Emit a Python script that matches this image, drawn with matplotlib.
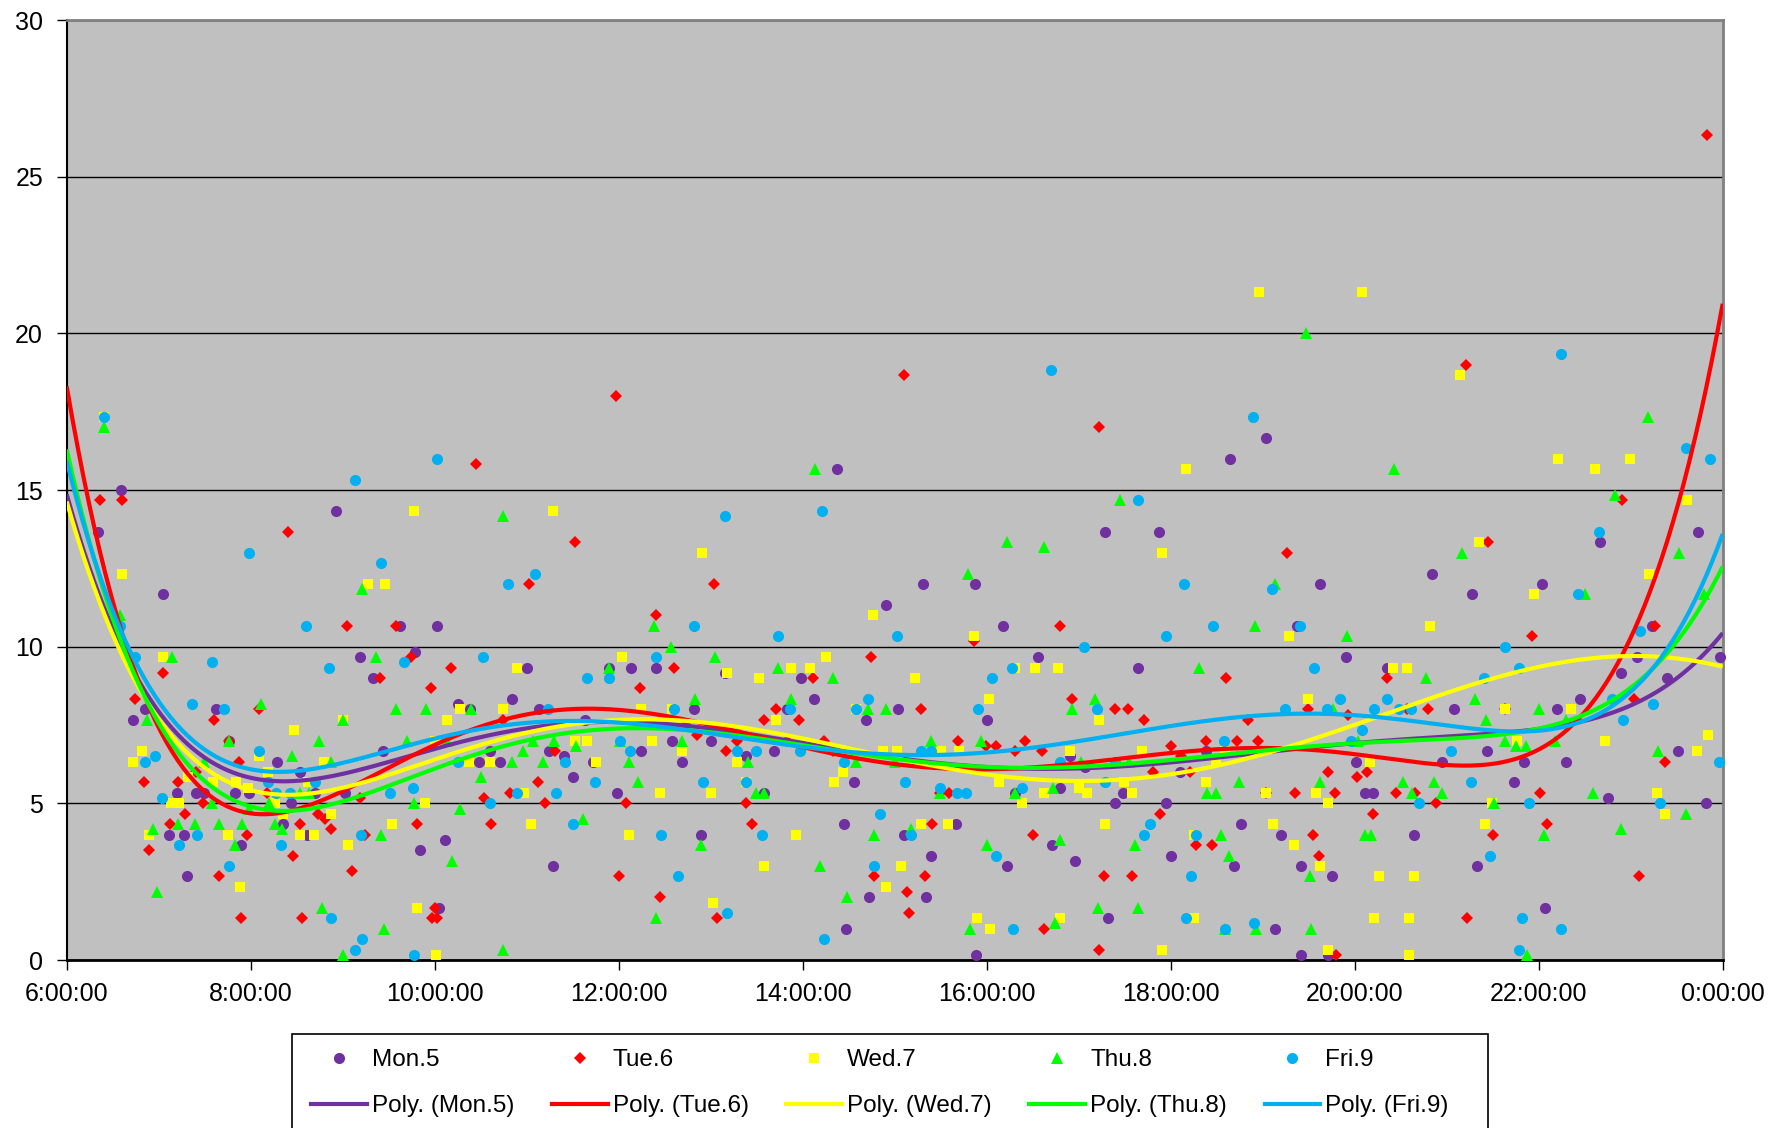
import numpy as np
import matplotlib
matplotlib.use("Agg")
import matplotlib.pyplot as plt
from matplotlib.lines import Line2D
from matplotlib.patches import Rectangle

# ---------------- data (time in hours of day, value) ----------------
mon_t = [6.59, 6.34, 7.05, 8.93, 9.62, 10.02, 9.19, 9.79, 9.33,
         14.37, 14.91, 11.0, 11.89, 12.13, 12.40, 13.15, 13.98,
         19.04, 18.64, 17.29, 17.87, 15.31, 15.87, 19.62, 16.18, 19.37, 16.56, 17.64,
         22.67, 23.73, 20.84, 21.28, 22.04, 23.23, 19.91, 20.35, 22.90, 23.07, 23.39, 23.97,
         6.85, 6.72, 7.62, 7.76, 8.29, 10.25, 10.38, 9.44, 10.48, 7.2, 7.4, 7.49, 7.83, 7.98,
         8.70, 8.54, 8.44, 9.02, 8.35, 7.11, 7.27, 8.61, 7.89, 10.11, 9.84, 7.31, 10.05,
         10.84, 11.13, 12.82, 14.12, 13.83, 15.04, 14.69, 11.63, 11.24, 11.41, 10.6, 10.71,
         11.72, 12.24, 12.58, 12.69, 13.0, 13.38, 13.69, 14.56, 11.5, 11.98, 13.58, 12.89,
         14.45, 11.29, 14.72, 14.47,
         16.0, 16.91, 17.07, 18.1, 18.38, 16.31, 16.8, 17.48, 17.4, 17.95, 15.1, 15.67,
         16.71, 15.4, 16.22, 16.96, 15.34, 18.0, 18.76, 18.69, 19.2, 19.42, 17.32, 15.88,
         19.13, 19.42,
         21.08, 22.2, 22.45, 23.51, 21.44, 20.01, 20.95, 21.84, 22.3, 20.11, 20.2, 21.73,
         22.75, 23.82, 20.64, 21.33, 19.75, 22.07, 19.71]
mon_v = [15.0, 13.67, 11.67, 14.33, 10.67, 10.67, 9.67, 9.83, 9.0,
         15.67, 11.33, 9.33, 9.33, 9.33, 9.33, 9.17, 9.0,
         16.67, 16.0, 13.67, 13.67, 12.0, 12.0, 12.0, 10.67, 10.67, 9.67, 9.33,
         13.33, 13.67, 12.33, 11.67, 12.0, 10.67, 9.67, 9.33, 9.17, 9.67, 9.0, 9.67,
         8.0, 7.67, 8.0, 7.0, 6.33, 8.17, 8.0, 6.67, 6.33, 5.33, 5.33, 5.33, 5.33, 5.33,
         5.33, 6.0, 5.0, 5.33, 4.33, 4.0, 4.0, 4.0, 3.67, 3.83, 3.5, 2.67, 1.67,
         8.33, 8.0, 8.0, 8.33, 8.0, 8.0, 7.67, 7.67, 6.67, 6.5, 6.67, 6.33,
         6.33, 6.67, 7.0, 6.33, 7.0, 6.5, 6.67, 5.67, 5.83, 5.33, 5.33, 4.0,
         4.33, 3.0, 2.0, 1.0,
         7.67, 6.5, 6.17, 6.0, 6.67, 5.33, 5.5, 5.33, 5.0, 5.0, 4.0, 4.33,
         3.67, 3.33, 3.0, 3.17, 2.0, 3.33, 4.33, 3.0, 4.0, 3.0, 1.33, 0.17,
         1.0, 0.17,
         8.0, 8.0, 8.33, 6.67, 6.67, 6.33, 6.33, 6.33, 6.33, 5.33, 5.33, 5.67,
         5.17, 5.0, 4.0, 3.0, 2.67, 1.67, 0.17]

tue_t = [6.36, 6.60, 7.05, 8.40, 9.05, 10.45, 9.58, 9.74, 10.18, 9.40, 9.96,
         11.53, 11.02, 13.04, 12.41, 14.74, 12.6, 14.11, 12.23,
         17.22, 19.26, 16.80, 15.86, 18.60,
         22.91, 21.45, 21.93, 23.26, 20.35,
         11.97, 15.1, 21.21, 23.83,
         6.74, 7.60, 8.09, 7.76, 7.87, 7.4, 6.84, 7.21, 7.48, 7.29, 8.18, 9.19, 8.73, 8.81,
         8.54, 8.87, 7.12, 7.96, 6.89, 8.46, 9.24, 9.81, 9.1, 7.65, 7.89, 8.56, 10.0, 9.97, 10.03,
         10.74, 12.73, 12.85, 13.71, 13.58, 13.96, 11.31, 13.29, 13.17, 13.83, 14.23, 14.33,
         10.54, 10.82, 11.12, 11.2, 12.08, 13.38, 10.61, 13.45, 12.0, 14.78, 12.45, 13.07,
         15.29, 16.93, 17.4, 17.54, 17.71, 19.49, 18.84, 15.69, 15.99, 16.1, 16.42, 16.31,
         16.6, 18.0, 18.11, 18.21, 17.81, 18.38, 18.72, 18.95, 15.49, 15.59, 19.04, 19.35,
         15.41, 16.5, 17.88, 15.33, 15.13, 15.16, 17.27, 17.58, 18.27, 18.45, 19.55, 19.61,
         16.62, 17.22,
         19.93, 20.57, 20.8, 21.63, 23.04, 23.37, 19.71, 20.02, 20.13, 19.79, 20.45, 20.66,
         22.01, 20.88, 20.2, 22.09, 21.5, 23.09, 21.22, 19.8]
tue_v = [14.67, 14.67, 9.17, 13.67, 10.67, 15.83, 10.67, 9.67, 9.33, 9.0, 8.67,
         13.33, 12.0, 12.0, 11.0, 9.67, 9.33, 9.0, 8.67,
         17.0, 13.0, 10.67, 10.17, 9.0,
         14.67, 13.33, 10.33, 10.67, 9.0,
         18.0, 18.67, 19.0, 26.33,
         8.33, 7.67, 8.0, 7.0, 6.33, 6.0, 5.67, 5.67, 5.0, 4.67, 5.33, 5.17, 4.67, 4.5,
         4.33, 4.17, 4.33, 4.0, 3.5, 3.33, 4.0, 4.33, 2.83, 2.67, 1.33, 1.33, 1.67, 1.33, 1.33,
         7.67, 7.5, 7.17, 8.0, 7.67, 7.67, 6.67, 7.0, 6.67, 7.0, 7.0, 6.67,
         5.17, 5.33, 5.67, 5.0, 5.0, 5.0, 4.33, 4.33, 2.67, 2.67, 2.0, 1.33,
         8.0, 8.33, 8.0, 8.0, 7.67, 8.0, 7.67, 7.0, 6.83, 6.83, 7.0, 6.67,
         6.67, 6.83, 6.5, 6.0, 6.0, 7.0, 7.0, 7.0, 5.33, 5.33, 5.33, 5.33,
         4.33, 4.0, 4.67, 2.67, 2.17, 1.5, 2.67, 2.67, 3.67, 3.67, 4.0, 3.33,
         1.0, 0.33,
         7.83, 8.0, 8.0, 8.0, 8.33, 6.33, 6.0, 5.83, 6.0, 5.33, 5.33, 5.33,
         5.33, 5.0, 4.67, 4.33, 4.0, 2.67, 1.33, 0.17]

wed_t = [6.40, 6.60, 7.05, 9.27, 9.46, 9.78,
         11.29, 12.91, 14.76, 12.04, 14.25, 10.89, 13.18, 13.53, 13.87, 14.08,
         18.17, 17.91, 15.86, 19.29, 16.31, 16.53, 16.77, 15.22,
         22.21, 22.61, 22.99, 23.61, 21.35, 23.2, 21.95, 20.82, 20.42, 20.57,
         18.96, 20.08, 21.15,
         8.47, 8.09, 6.82, 6.72, 9.0, 10.27, 10.13, 10.0, 8.8, 10.37, 7.32, 7.59, 7.84, 7.97,
         7.13, 7.22, 8.62, 8.19, 8.26, 8.35, 9.89, 8.87, 6.89, 7.75, 8.54, 8.69, 9.06, 9.54,
         7.88, 9.81, 10.01,
         10.74, 12.24, 12.58, 13.71, 14.58, 11.53, 11.65, 10.6, 11.75, 12.36, 12.69, 13.29,
         14.44, 14.34, 14.87, 15.02, 10.97, 12.45, 13.0, 13.38, 11.05, 12.11, 13.93, 15.07,
         13.58, 14.91, 13.03,
         16.02, 17.22, 19.49, 15.5, 15.7, 16.91, 17.40, 17.69, 18.59, 18.49, 16.13, 16.38,
         16.62, 17.0, 17.09, 17.49, 17.58, 18.38, 19.04, 19.58, 15.29, 15.58, 17.29, 18.25,
         19.11, 19.34, 19.62, 15.89, 16.04, 16.8, 17.91, 18.25,
         21.63, 22.35, 21.76, 22.72, 23.84, 23.72, 20.17, 23.29, 19.71, 21.49, 23.37, 21.42,
         20.26, 20.64, 20.21, 20.59, 19.71, 20.59]
wed_v = [17.33, 12.33, 9.67, 12.0, 12.0, 14.33,
         14.33, 13.0, 11.0, 9.67, 9.67, 9.33, 9.17, 9.0, 9.33, 9.33,
         15.67, 13.0, 10.33, 10.33, 9.33, 9.33, 9.33, 9.0,
         16.0, 15.67, 16.0, 14.67, 13.33, 12.33, 11.67, 10.67, 9.33, 9.33,
         21.33, 21.33, 18.67,
         7.33, 6.5, 6.67, 6.33, 7.67, 8.0, 7.67, 7.0, 6.33, 6.33, 5.83, 5.67, 5.67, 5.5,
         5.0, 5.0, 5.67, 6.0, 5.0, 4.67, 5.0, 4.67, 4.0, 4.0, 4.0, 4.0, 3.67, 4.33,
         2.33, 1.67, 0.17,
         8.0, 8.0, 8.0, 7.67, 8.0, 7.0, 7.0, 6.33, 6.33, 7.0, 6.67, 6.33,
         6.0, 5.67, 6.67, 6.67, 5.33, 5.33, 5.33, 5.67, 4.33, 4.0, 4.0, 3.0,
         3.0, 2.33, 1.83,
         8.33, 7.67, 8.33, 6.67, 6.67, 6.67, 6.33, 6.67, 6.67, 6.33, 5.67, 5.0,
         5.33, 5.5, 5.33, 5.67, 5.33, 5.67, 5.33, 5.33, 4.33, 4.33, 4.33, 4.0,
         4.33, 3.67, 3.0, 1.33, 1.0, 1.33, 0.33, 1.33,
         8.0, 8.0, 7.0, 7.0, 7.17, 6.67, 6.33, 5.33, 5.0, 5.0, 4.67, 4.33,
         2.67, 2.67, 1.33, 1.33, 0.33, 0.17]

thu_t = [6.40, 6.58, 7.14, 9.21, 9.36,
         14.13, 10.74, 12.38, 12.57, 13.05, 11.89, 13.73, 14.33,
         17.45, 16.22, 16.62, 15.80, 19.13, 18.92, 18.31,
         23.19, 20.43, 22.83, 21.17, 23.52, 22.50, 23.80, 19.92, 20.77,
         19.47,
         6.87, 8.11, 7.76, 8.74, 8.45, 9.0, 9.58, 9.91, 10.4, 9.70, 10.13, 8.87, 7.49, 10.5,
         7.58, 7.98, 8.54, 8.63, 8.2, 9.78, 10.27, 8.26, 8.34, 6.94, 7.21, 7.39, 7.65, 7.9,
         7.83, 9.42, 10.19, 6.98, 8.77, 9.45, 9.0,
         12.83, 13.87, 14.71, 14.91, 11.07, 11.3, 11.54, 10.96, 10.84, 11.18, 12.01, 12.11,
         12.69, 13.17, 13.30, 13.4, 14.58, 15.0, 12.21, 13.49, 13.58, 11.61, 12.89, 14.78,
         14.19, 12.41, 14.48, 10.74,
         16.93, 17.18, 15.4, 15.94, 17.03, 17.55, 15.49, 16.31, 16.72, 18.39, 18.49, 18.74,
         19.62, 15.18, 16.8, 17.61, 16.0, 18.55, 18.63, 19.51, 17.21, 17.64, 15.82, 16.74,
         18.59, 18.93, 19.52,
         19.76, 21.31, 22.0, 22.3, 21.43, 20.04, 21.63, 21.75, 21.86, 22.18, 23.30, 20.53,
         20.62, 20.86, 20.95, 22.59, 21.51, 23.6, 22.9, 20.11, 20.18, 22.06, 21.87]
thu_v = [17.0, 11.0, 9.67, 11.83, 9.67,
         15.67, 14.17, 10.67, 10.0, 9.67, 9.33, 9.33, 9.0,
         14.67, 13.33, 13.17, 12.33, 12.0, 10.67, 9.33,
         17.33, 15.67, 14.83, 13.0, 13.0, 11.67, 11.67, 10.33, 9.0,
         20.0,
         7.67, 8.17, 7.0, 7.0, 6.5, 7.67, 8.0, 8.0, 8.0, 7.0, 7.0, 6.33, 6.33, 5.83,
         5.0, 4.83, 5.33, 5.33, 5.0, 5.0, 4.83, 4.33, 4.17, 4.17, 4.33, 4.33, 4.33, 4.33,
         3.67, 4.0, 3.17, 2.17, 1.67, 1.0, 0.17,
         8.33, 8.33, 8.0, 8.0, 7.0, 7.0, 6.83, 6.67, 6.33, 6.33, 7.0, 6.33,
         7.0, 7.33, 7.33, 6.33, 6.33, 6.33, 5.67, 5.33, 5.33, 4.5, 3.67, 4.0,
         3.0, 1.33, 2.0, 0.33,
         8.0, 8.33, 7.0, 7.0, 6.33, 6.33, 5.33, 5.33, 5.5, 5.33, 5.33, 5.67,
         5.67, 4.17, 3.83, 3.67, 3.67, 4.0, 3.33, 2.67, 1.67, 1.67, 1.0, 1.17,
         1.0, 1.0, 1.0,
         8.0, 8.33, 8.0, 7.67, 7.67, 7.0, 7.0, 6.83, 6.83, 7.0, 6.67, 5.67,
         5.33, 5.67, 5.33, 5.33, 5.0, 4.67, 4.17, 4.0, 4.0, 4.0, 0.17]

fri_t = [6.40, 6.58, 6.74, 7.58, 7.98, 9.13, 8.60, 9.42, 10.03, 8.85, 9.67, 10.52,
         13.15, 14.21, 11.09, 10.80, 12.82, 13.73, 15.02, 12.40, 11.65, 11.89,
         18.89, 17.64, 18.15, 19.10, 18.46, 19.41, 17.95, 17.06, 16.27, 19.56, 16.06,
         23.6, 23.86, 22.66, 22.43, 23.1, 21.63, 21.41, 21.79,
         22.24, 16.70,
         7.36, 7.71, 8.09, 6.85, 6.96, 10.25, 7.04, 8.19, 8.28, 8.43, 8.70, 9.51, 9.76,
         7.42, 7.22, 8.33, 7.76, 9.2, 8.87, 9.21, 9.13, 9.77,
         11.23, 12.6, 13.86, 14.71, 14.58, 11.42, 12.01, 12.12, 13.29, 13.49, 13.97, 14.45,
         10.6, 10.89, 11.32, 11.74, 12.92, 13.38, 11.5, 12.46, 13.56, 14.84, 12.64, 14.77,
         13.18, 14.23,
         15.91, 17.2, 19.24, 15.29, 15.4, 16.8, 17.40, 18.58, 15.11, 15.49, 15.68, 15.78,
         16.38, 17.29, 15.18, 17.78, 17.71, 16.1, 18.28, 18.22, 16.29, 18.17, 18.59, 18.91,
         19.84, 19.7, 20.35, 20.21, 20.48, 20.61, 22.8, 23.24, 22.92, 20.08, 19.96, 23.96,
         21.05, 21.26, 20.7, 21.9, 23.32, 21.47, 21.82, 22.24, 21.79]
fri_v = [17.33, 10.67, 9.67, 9.5, 13.0, 15.33, 10.67, 12.67, 16.0, 9.33, 9.5, 9.67,
         14.17, 14.33, 12.33, 12.0, 10.67, 10.33, 10.33, 9.67, 9.0, 9.0,
         17.33, 14.67, 12.0, 11.83, 10.67, 10.67, 10.33, 10.0, 9.33, 9.33, 9.0,
         16.33, 16.0, 13.67, 11.67, 10.5, 10.0, 9.0, 9.33,
         19.33, 18.83,
         8.17, 8.0, 6.67, 6.33, 6.5, 6.33, 5.17, 5.67, 5.33, 5.33, 5.67, 5.33, 5.5,
         4.0, 3.67, 3.67, 3.0, 4.0, 1.33, 0.67, 0.33, 0.17,
         8.0, 8.0, 8.0, 8.33, 8.0, 6.33, 7.0, 6.67, 6.67, 6.67, 6.67, 6.33,
         5.0, 5.33, 5.33, 5.67, 5.67, 5.67, 4.33, 4.0, 4.0, 4.67, 2.67, 3.0,
         1.5, 0.67,
         8.0, 8.0, 8.0, 6.67, 6.67, 6.33, 6.33, 7.0, 5.67, 5.5, 5.33, 5.33,
         5.5, 5.67, 4.0, 4.33, 4.0, 3.33, 4.0, 2.67, 1.0, 1.33, 1.0, 1.17,
         8.33, 8.0, 8.33, 8.0, 8.0, 8.0, 8.33, 8.17, 7.67, 7.33, 7.0, 6.33,
         6.67, 5.67, 5.0, 5.0, 5.0, 3.33, 1.33, 1.0, 0.33]

series_names = ["Mon.5", "Tue.6", "Wed.7", "Thu.8", "Fri.9"]
x_ticks = [6, 8, 10, 12, 14, 16, 18, 20, 22, 24]
x_tick_labels = ["6:00:00", "8:00:00", "10:00:00", "12:00:00", "14:00:00",
                 "16:00:00", "18:00:00", "20:00:00", "22:00:00", "0:00:00"]
y_ticks = [0, 5, 10, 15, 20, 25, 30]
poly_order = 6

# ---------------- style ----------------
colors = ["#7030A0", "#FF0000", "#FFFF00", "#00FF00", "#00B0F0"]
markers = ["o", "D", "s", "^", "o"]
msizes = [8.0, 6.3, 7.3, 8.0, 8.0]

plt.rcParams['font.family'] = ['Liberation Sans', 'DejaVu Sans']

W, H = 1786, 1128
fig = plt.figure(figsize=(W / 100, H / 100), dpi=100)
ax = fig.add_axes([66.7 / W, 1 - 960 / H, (1722.7 - 66.7) / W, (960 - 20) / H])
ax.set_facecolor("#C0C0C0")

data = [(mon_t, mon_v), (tue_t, tue_v), (wed_t, wed_v), (thu_t, thu_v), (fri_t, fri_v)]

for (t, v), c, m, ms in zip(data, colors, markers, msizes):
    ax.plot(t, v, linestyle="none", marker=m, markersize=ms, color=c,
            markeredgewidth=0, zorder=3, clip_on=False)

xs = np.linspace(6, 24, 600)
for (t, v), c in zip(data, colors):
    p = np.polynomial.Polynomial.fit(t, v, poly_order)
    ax.plot(xs, p(xs), color=c, linewidth=3.0, zorder=4, solid_capstyle="butt")

ax.set_xlim(6, 24)
ax.set_ylim(0, 30)
ax.set_xticks(x_ticks)
ax.set_xticklabels(x_tick_labels)
ax.set_yticks(y_ticks)
ax.yaxis.grid(True, color="black", linewidth=1.0, zorder=1)
ax.set_axisbelow(True)

for side in ["top", "right"]:
    ax.spines[side].set_color("#808080")
    ax.spines[side].set_linewidth(2.0)
ax.spines["left"].set_color("black")
ax.spines["left"].set_linewidth(1.5)
ax.spines["bottom"].set_color("black")
ax.spines["bottom"].set_linewidth(2.0)

ax.tick_params(axis="both", direction="out", length=7, width=1.0, colors="black",
               labelsize=18)
ax.tick_params(axis="y", pad=10)
ax.tick_params(axis="x", pad=9)

# legend frame (extends past the bottom edge, as in the original)
frame = Rectangle((292 / W, 1 - 1150 / H), (1488 - 292) / W, (1150 - 1034) / H,
                  transform=fig.transFigure, facecolor="white", edgecolor="black",
                  linewidth=1.2, zorder=0)
fig.add_artist(frame)

# legend: row 1 markers, row 2 trend lines
handles, labels = [], []
for name, c, m, ms in zip(series_names, colors, markers, msizes):
    handles.append(Line2D([], [], linestyle="none", marker=m, markersize=ms,
                          color=c, markeredgewidth=0))
    labels.append(name)
    handles.append(Line2D([], [], color=c, linewidth=3.0))
    labels.append(f"Poly. ({name})")

leg = fig.legend(handles, labels, ncol=5, loc="upper left",
                 bbox_to_anchor=(311 / W, 1 - 1049 / H), borderaxespad=0,
                 fontsize=17.5, frameon=False,
                 handlelength=2.3, handletextpad=0.2, columnspacing=1.55,
                 labelspacing=1.0, borderpad=0)
leg.set_zorder(5)

fig.savefig("out.png", dpi=100)
